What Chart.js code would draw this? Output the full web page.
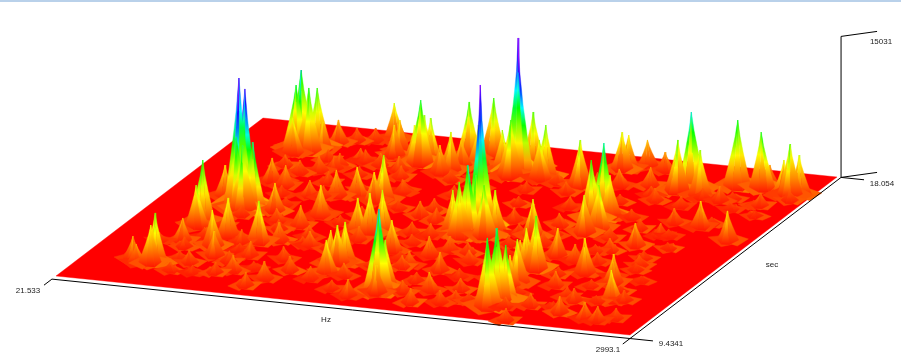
<!DOCTYPE html>
<html>
<head>
<meta charset="utf-8">
<title>Surface</title>
<script src="https://cdn.jsdelivr.net/npm/chart.js@4"></script>
<style>
  html, body { margin: 0; padding: 0; background: #fff; }
  #bar { position: absolute; left: 0; top: 0; width: 901px; height: 2px; background: #b9d1ea; z-index: 2; }
  #surface { position: absolute; left: 0; top: 0; }
</style>
</head>
<body>
<div id="bar"></div>
<canvas id="surface" width="901" height="363"></canvas>
<script>
// axis ranges and labels as printed on the plot
var hzMin = 21.533, hzMax = 2993.1;
var secMin = 9.4341, secMax = 18.054;
var ampMax = 15031;
var hzTicks = ['21.533', '2993.1'];
var secTicks = ['9.4341', '18.054'];
var ampTicks = ['15031'];
var axisNames = ['Hz', 'sec'];

// peaks, one entry per peak in all three lists
var peakHz = [379,352,418,440,361,482,512,582,664,744,838,1001,1012,966,1035,845,1195,1292,1662,1508,1490,1485,1535,1661,1644,1869,2153,2121,2185,2208,2172,1959,1986,2060,2167,2341,2398,2476,2585,2711,2881,2849,2926,2735,2661,2873,1953,2160,2123,2073,2182,2483,2411,2599,2702,2536,2753,2172,2177,2213,2166,2147,1565,1620,1656,1688,1734,1762,365,360,432,455,441,309,510,473,433,522,820,911,1059,1023,390,367,307,265,381,553,561,734,621,626,862,987,793,938,1225,1256,1188,1234,1468,1575,1251,1191,1132,1582,1577,1792,1603,1399,1186,1211,1152,1284,1428,
  654,715,592,513,836,957,696,830,828,995,781,549,1053,1192,1812,1738,1986,1571,1664,2358,2533,2686,2824,2621,2394,2532,2523,2300,2188,2051,2597,2809,2916,2294,2352,2761,1318,1483,1100,506,723,281,1929,2334,2016,
  620,1350,1700,2050,2250,2480,480,720,880,1330,1690,1950,2230,2470,2640,430,700,960,1400,1540,1870,2010,2520,2690,460,660,960,1100,1480,1820,1980,2300,2560,2720,480,760,940,1180,1450,1760,1950,2410,2630,500,700,1000,1380,1900,2050,2330,2600,480,640,880,1050,1420,1880,2050,2320,2650,560,760,1180,1350,1500,1780,2000,2400,2580,480,700,900,1100,1350,1500,1700,1950,2300,2700,400,650,800,1000,1250,1420,1650,1850,2150,2450,2700,2850,560,750,1350,1750,1950,2250,2500,2650,2780];
var peakSec = [16.80,16.77,16.74,16.98,16.57,16.81,17.28,17.46,17.55,17.74,17.19,16.71,16.83,16.78,16.86,16.93,17.20,17.41,13.94,16.72,16.53,17.07,17.13,16.61,16.54,16.40,15.07,14.87,15.10,14.42,14.16,17.42,17.45,17.70,17.54,16.64,16.81,16.51,17.17,17.20,17.00,16.97,17.05,17.34,15.02,14.49,13.76,12.19,12.15,12.26,12.92,13.79,12.24,11.90,11.03,10.19,9.99,10.13,10.46,10.50,11.43,11.24,13.51,13.40,13.44,13.48,13.52,13.72,12.75,12.58,13.75,13.78,13.60,14.16,13.67,13.60,15.12,14.94,14.72,14.82,14.70,14.66,10.60,10.57,10.51,10.68,11.79,11.70,12.26,12.12,11.23,13.69,13.67,10.37,10.60,9.94,11.50,11.54,11.46,10.97,9.96,10.35,13.17,13.10,13.04,10.25,10.63,9.93,12.29,12.34,16.48,16.78,16.33,16.86,16.74,
  16.17,16.51,15.83,15.64,16.37,16.23,14.58,13.09,12.27,12.18,11.40,10.77,10.88,10.59,10.61,11.62,10.25,11.71,12.63,10.38,10.84,10.03,10.18,12.85,13.42,14.39,15.09,16.05,16.74,16.60,16.37,16.33,16.71,12.77,11.47,11.09,14.17,13.25,15.29,10.29,10.41,11.68,10.08,9.54,14.38,
  10.3,10.2,10.4,10.3,10.2,10.4,10.9,11.0,10.8,10.9,11.0,10.8,10.9,11.0,10.9,11.5,11.6,11.4,11.5,11.6,11.4,11.5,11.6,11.5,12.1,12.0,12.2,12.1,12.0,12.2,12.1,12.0,12.2,12.1,12.7,12.8,12.6,12.7,12.8,12.6,12.7,12.8,12.6,13.3,13.2,13.4,13.3,13.2,13.4,13.3,13.2,13.9,14.0,13.8,13.9,14.0,13.8,13.9,14.0,13.8,14.5,14.6,14.4,14.5,14.6,14.4,14.5,14.6,14.4,15.2,15.3,15.1,15.2,15.3,15.1,15.2,15.3,15.1,15.2,15.9,16.0,15.8,15.9,16.0,15.8,15.9,16.0,15.8,15.9,16.0,15.8,16.4,16.5,16.3,16.4,16.5,16.3,16.4,16.5,16.3];
var peakAmp = [8315,6716,6609,6183,3624,2985,2345,1279,1279,3731,3198,6609,4797,3731,4477,3198,5863,6076,15031,14284,5863,5863,5650,5543,4051,4797,7675,6183,4264,4584,3944,3838,3518,2665,1919,5330,8102,4797,6929,5863,5330,3624,4157,2132,2665,3091,3838,5543,4264,2665,2878,2345,3624,2985,3198,1706,1492,7249,7675,5863,4584,3198,4477,5650,7462,6396,5330,4477,6609,4264,13538,12366,7569,3198,7036,6716,2345,2132,2665,2985,4797,2985,5223,3944,1919,2345,2345,3731,3944,4264,2558,2878,3198,1812,1599,1386,3944,4264,3411,3411,1706,8635,4477,4157,3624,2878,4797,1492,2025,3198,4051,2665,2878,4264,4264,
  1279,1279,1492,1279,1279,1492,1599,2132,1919,1492,1492,1279,1492,1279,1919,1919,1066,1492,1492,1279,1279,1706,1066,1066,1279,1279,1492,1279,1919,1706,1492,1279,1066,1706,1492,1066,1492,1279,1066,853,1066,853,1279,1279,1279,
  700,900,1200,800,1000,600,800,1100,700,1300,900,1200,700,1000,600,1000,700,1300,800,1200,900,1100,700,500,900,1300,800,1100,700,1200,1000,800,1100,500,800,1000,1200,1400,900,1100,800,1000,700,1000,1300,800,1100,900,1200,700,800,1100,800,1200,900,1300,1000,800,1100,600,900,1100,800,1200,1000,1300,800,1000,700,800,1100,900,1300,1000,1200,800,1100,900,700,1100,1300,900,1200,1000,1400,900,1100,800,1000,700,500,1000,1200,900,1100,1300,900,1000,700,500];

// fixed view of the box: where the corner sits and how the three axes run on screen
function project(hz, sec, amp) {
  var u = (hz - hzMin) / (hzMax - hzMin);
  var v = (sec - secMin) / (secMax - secMin);
  return {
    x: 56 + 574 * u + 207 * v,
    y: 276 + 59 * u - 158 * v - 141 * amp / ampMax
  };
}

var canvas = document.getElementById('surface');
var ctx = canvas.getContext('2d');

// colour goes by height: red at the floor through yellow, green, cyan, blue to purple
var hueAt = [0, 0.25, 0.45, 0.58, 0.72, 1];
var hues = [0, 60, 120, 180, 225, 280];
function heightColor(amp) {
  var t = Math.min(1, amp / ampMax);
  var k = 0;
  while (k < hueAt.length - 2 && t > hueAt[k + 1]) k++;
  var hue = hues[k] + (hues[k + 1] - hues[k]) * (t - hueAt[k]) / (hueAt[k + 1] - hueAt[k]);
  return 'hsl(' + hue.toFixed(0) + ',100%,50%)';
}

// the canvas is the size of the axis ranges, so plot units are pixels here
function heightGradient(yBase, yTip, amp, gain) {
  var g = ctx.createLinearGradient(0, yBase, 0, yTip);
  for (var s = 0; s <= 8; s++) {
    g.addColorStop(s / 8, heightColor(amp * (s / 8) * gain + 350));
  }
  return g;
}

function polygon(points, color) {
  return {
    data: points.concat([points[0]]),
    showLine: true,
    fill: 'shape',
    backgroundColor: color,
    borderColor: color,
    borderWidth: 0.4,
    pointRadius: 0,
    tension: 0
  };
}

function axisLine(points) {
  return {
    data: points,
    showLine: true,
    fill: false,
    borderColor: '#000',
    borderWidth: 1,
    pointRadius: 0,
    tension: 0
  };
}

var facetGains = [0.9, 1.18, 0.82, 1.05, 0.95];
var profile = [0, 0.25, 0.5, 0.75, 1];

// a line from the foot of a peak up to its tip, curved in like the spikes are
function ridge(base, tip, offX, offY, bend) {
  return profile.map(function (f) {
    var g = Math.pow(1 - f, bend);
    return { x: tip.x + (base.x + offX - tip.x) * g, y: base.y + offY * g - f * (base.y - tip.y) };
  });
}

function peakPolygons(i, out) {
  var base = project(peakHz[i], peakSec[i], 0);
  var amp = peakAmp[i];
  var h = 141 * amp / ampMax;
  var w = Math.min(8 + 0.09 * h, 15);
  var tip = { x: base.x + (i % 3 - 1) * 0.8, y: base.y - h };
  var bend = amp > 14000 ? 1.6 : 1.25;

  // low angular mound round the foot
  var sk = w * 1.9;
  var rise = 4 + h * 0.14;
  var tint = (i % 4) * 150;
  var apex = { x: base.x + ((i % 5) - 2) * sk * 0.15, y: base.y - rise };
  var front = { x: base.x - ((i % 3) - 1) * sk * 0.2, y: base.y + sk * 0.22 };
  out.push(polygon([
    { x: base.x - sk, y: base.y - 1 + (i % 3 - 1) * 2 },
    { x: base.x - sk * 0.35, y: base.y + sk * 0.34 },
    front,
    apex,
    { x: base.x - sk * 0.5, y: base.y - rise * 0.5 }
  ], heightColor(450 + tint + amp * 0.08)));
  out.push(polygon([
    { x: base.x + sk, y: base.y - 1 + ((i + 1) % 3 - 1) * 2 },
    { x: base.x + sk * 0.45, y: base.y + sk * 0.3 },
    front,
    apex,
    { x: base.x + sk * 0.4, y: base.y - rise * 0.6 }
  ], heightColor(750 + tint + amp * 0.1)));

  var mid = ((i % 5) - 2) * 0.1;
  var feet = [[-1, 0], [-0.45 + mid, 0.4], [0.3 + mid, 0.45], [1, 0]];
  for (var k = 0; k < 3; k++) {
    var a = ridge(base, tip, feet[k][0] * w, feet[k][1] * w, bend);
    var b = ridge(base, tip, feet[k + 1][0] * w, feet[k + 1][1] * w, bend).reverse();
    var gain = facetGains[(i + k) % facetGains.length];
    var color = heightGradient(base.y + 0.4 * w, tip.y, amp, gain);
    out.push(polygon(a.concat(b.slice(1)), color));
  }
}

var order = peakHz.map(function (_, i) { return i; });
order.sort(function (a, b) {
  return project(peakHz[a], peakSec[a], 0).y - project(peakHz[b], peakSec[b], 0).y;
});

var datasets = [];
datasets.push(polygon([
  project(hzMin, secMin, 0), project(hzMax, secMin, 0),
  project(hzMax, secMax, 0), project(hzMin, secMax, 0)
], '#ff0000'));
order.forEach(function (i) { peakPolygons(i, datasets); });

// frame of the box
var frontSec = secMin - 0.17, rightHz = hzMax + 21;
var corner = project(rightHz, secMax, 0);
var ampTop = project(rightHz, secMax, ampMax);
datasets.push(axisLine([project(hzMin, frontSec, 0), project(hzMax + 140, frontSec, 0)]));
datasets.push(axisLine([project(hzMin, secMin - 0.5, 0), project(hzMin, frontSec, 0)]));
datasets.push(axisLine([project(rightHz, secMin - 0.47, 0), corner]));
datasets.push(axisLine([corner, project(hzMax + 140, secMax, 0)]));
datasets.push(axisLine([corner, ampTop]));
datasets.push(axisLine([corner, { x: corner.x + 36, y: corner.y - 5 }]));
datasets.push(axisLine([ampTop, { x: ampTop.x + 36, y: ampTop.y - 5 }]));

// chart.js paints the first dataset last
datasets.reverse();

var plotLabels = {
  id: 'plotLabels',
  afterDatasetsDraw: function (chart) {
    var c = chart.ctx;
    var sx = chart.scales.x, sy = chart.scales.y;
    var items = [
      [hzTicks[0], 28, 291], [hzTicks[1], 608, 350],
      [secTicks[0], 671, 344], [secTicks[1], 882, 184],
      [ampTicks[0], 881, 42],
      [axisNames[0], 326, 320], [axisNames[1], 772, 265]
    ];
    c.save();
    c.font = '8px "Liberation Sans", Arial, sans-serif';
    c.fillStyle = '#222';
    c.textAlign = 'center';
    c.textBaseline = 'middle';
    items.forEach(function (t) {
      c.fillText(t[0], sx.getPixelForValue(t[1]), sy.getPixelForValue(t[2]));
    });
    c.restore();
  }
};

new Chart(ctx, {
  type: 'scatter',
  data: { datasets: datasets },
  options: {
    responsive: false,
    animation: false,
    events: [],
    layout: { padding: 0 },
    plugins: { legend: { display: false }, tooltip: { enabled: false } },
    scales: {
      x: { type: 'linear', display: false, min: 0, max: 901 },
      y: { type: 'linear', display: false, min: 0, max: 363, reverse: true }
    }
  },
  plugins: [plotLabels]
});
</script>
</body>
</html>
